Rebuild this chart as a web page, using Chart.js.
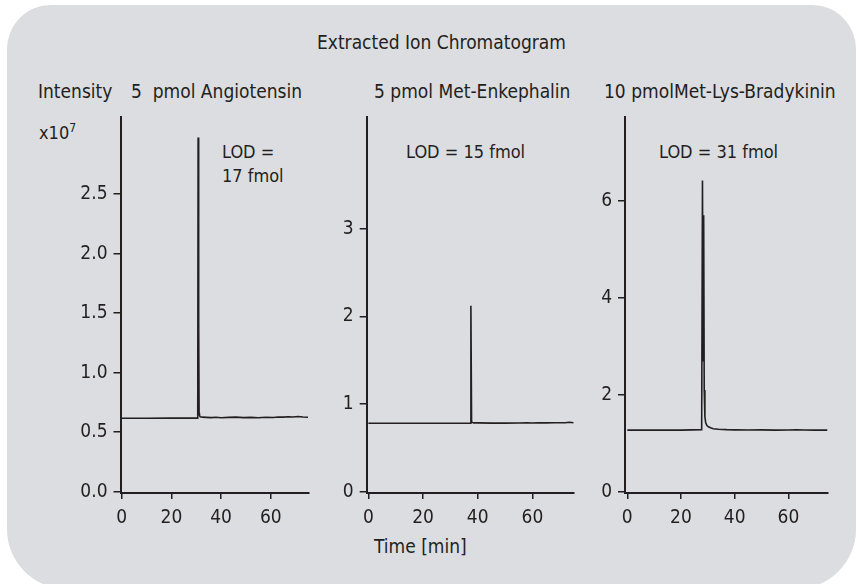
<!DOCTYPE html>
<html>
<head>
<meta charset="utf-8">
<script src="https://cdn.jsdelivr.net/npm/chart.js@4.4.1/dist/chart.umd.min.js"></script>
<style>
  body { margin: 0; background: #fff; width: 857px; height: 584px; overflow: hidden;
         font-family: 'Liberation Sans Narrow', 'DejaVu Sans Condensed', sans-serif; color: #231f20; }
  #panel { position: absolute; left: 7px; top: 5px; width: 849px; height: 584px;
           border-radius: 44px 44px 60px 60px; background: #dcdde0; }
  .t { position: absolute; font-size: 19px; line-height: 1; white-space: nowrap; }
  .lod { font-size: 18px; }
  canvas { position: absolute; }
</style>
</head>
<body>
<div id="panel"></div>

<div class="t" style="left:317px;top:33px">Extracted Ion Chromatogram</div>
<div class="t" style="left:38px;top:82px">Intensity</div>
<div class="t" style="left:131px;top:82px">5&nbsp; pmol Angiotensin</div>
<div class="t" style="left:374px;top:82px">5 pmol Met-Enkephalin</div>
<div class="t" style="left:604px;top:82px">10 pmolMet-Lys-Bradykinin</div>
<div class="t lod" style="left:39px;top:122px">x10<sup style="font-size:12px;vertical-align:7px">7</sup></div>
<div class="t lod" style="left:222px;top:140px;line-height:24px">LOD =<br>17 fmol</div>
<div class="t lod" style="left:406px;top:143px">LOD = 15 fmol</div>
<div class="t lod" style="left:659px;top:143px">LOD = 31 fmol</div>
<div class="t" style="left:374px;top:537px">Time [min]</div>

<canvas id="angio"></canvas>
<canvas id="enk"></canvas>
<canvas id="brady"></canvas>

<script>
// retention time axis (min)
const timeTicks = [0, 20, 40, 60];

// 5 pmol Angiotensin, intensity x10^7
const angioTicks = [0, 0.5, 1.0, 1.5, 2.0, 2.5];
const angioTickLabels = ['0.0', '0.5', '1.0', '1.5', '2.0', '2.5'];
const angioTime = [0, 10, 20, 30.4, 30.6, 30.75, 30.9, 31.05, 31.15, 31.3, 31.6, 32.5, 34, 36, 38, 40, 43,
                   46, 49, 52, 55, 58, 61, 63, 65, 67, 69, 71, 73, 75];
const angioIntensity = [0.617, 0.617, 0.618, 0.618, 0.62, 2.975, 0.7, 1.43, 0.66, 0.64, 0.63, 0.626, 0.624,
                        0.622, 0.625, 0.621, 0.624, 0.626, 0.622, 0.624, 0.621, 0.625, 0.623, 0.628, 0.626,
                        0.63, 0.627, 0.632, 0.628, 0.625];

// 5 pmol Met-Enkephalin
const enkTicks = [0, 1, 2, 3];
const enkTickLabels = ['0', '1', '2', '3'];
const enkTime = [0, 10, 20, 30, 37.3, 37.5, 37.75, 38, 38.5, 40, 45, 50, 55, 58, 60, 62, 65, 68, 70, 72, 73.5, 75];
const enkIntensity = [0.78, 0.78, 0.78, 0.78, 0.78, 2.12, 0.8, 0.79, 0.785, 0.785, 0.782, 0.782, 0.783,
                      0.786, 0.784, 0.786, 0.785, 0.787, 0.786, 0.787, 0.792, 0.786];

// 10 pmol Met-Lys-Bradykinin
const bradyTicks = [0, 2, 4, 6];
const bradyTickLabels = ['0', '2', '4', '6'];
const bradyTime = [0, 10, 20, 27.7, 28.0, 28.25, 28.45, 28.65, 28.9, 29.2, 29.6, 30.2, 31, 32, 34, 37, 40,
                   45, 50, 55, 60, 63, 66, 70, 75];
const bradyIntensity = [1.27, 1.27, 1.27, 1.28, 6.42, 2.7, 5.70, 2.1, 1.55, 1.42, 1.37, 1.34, 1.32, 1.30,
                        1.29, 1.28, 1.275, 1.272, 1.275, 1.27, 1.272, 1.276, 1.273, 1.27, 1.27];

const ink = '#231f20';
const font = { family: "'Liberation Sans Narrow', 'DejaVu Sans Condensed', sans-serif", size: 19 };

// canvas box and wanted plot area, both in page pixels
function makePanel(id, box, area, time, values, yTicks, yLabels, xRange, yRange) {
  const el = document.getElementById(id);
  el.style.left = box.x + 'px';
  el.style.top = box.y + 'px';
  el.width = box.w;
  el.height = box.h;
  const yAxisW = 50, xAxisH = 40;

  new Chart(el, {
    type: 'line',
    data: {
      datasets: [{
        data: time.map((t, i) => ({ x: t, y: values[i] })),
        borderColor: ink,
        borderWidth: 1.6,
        pointRadius: 0,
        tension: 0,
        fill: false
      }]
    },
    options: {
      responsive: false,
      animation: false,
      events: [],
      layout: {
        padding: {
          left: area.l - box.x - yAxisW,
          right: box.x + box.w - area.r,
          top: area.t - box.y,
          bottom: box.y + box.h - area.b - xAxisH
        }
      },
      plugins: { legend: { display: false }, tooltip: { enabled: false } },
      scales: {
        x: {
          type: 'linear',
          min: xRange[0],
          max: xRange[1],
          afterFit: s => { s.height = xAxisH; },
          afterBuildTicks: s => { s.ticks = timeTicks.map(v => ({ value: v })); },
          border: { display: true, color: ink, width: 2 },
          grid: { drawOnChartArea: false, drawTicks: true, tickLength: 6, color: ink, lineWidth: 1.5 },
          ticks: { color: ink, font: font, padding: 8, maxRotation: 0 }
        },
        y: {
          type: 'linear',
          min: yRange[0],
          max: yRange[1],
          afterFit: s => { s.width = yAxisW; },
          afterBuildTicks: s => { s.ticks = yTicks.map(v => ({ value: v })); },
          border: { display: true, color: ink, width: 2 },
          grid: { drawOnChartArea: false, drawTicks: true, tickLength: 7, color: ink, lineWidth: 1.5 },
          ticks: {
            color: ink, font: font, padding: 6,
            callback: (v, i) => yLabels[i]
          }
        }
      }
    }
  });
}

makePanel('angio', { x: 40, y: 100, w: 285, h: 445 }, { l: 120.5, r: 309, t: 116, b: 493 },
          angioTime, angioIntensity, angioTicks, angioTickLabels, [-0.5, 75.4], [-0.011, 3.144]);
makePanel('enk', { x: 300, y: 100, w: 285, h: 445 }, { l: 366.7, r: 574, t: 115, b: 493 },
          enkTime, enkIntensity, enkTicks, enkTickLabels, [-0.6, 75.2], [-0.015, 4.27]);
makePanel('brady', { x: 565, y: 100, w: 280, h: 445 }, { l: 625, r: 827.3, t: 112, b: 493 },
          bradyTime, bradyIntensity, bradyTicks, bradyTickLabels, [-0.86, 74.5], [-0.026, 7.72]);
</script>
</body>
</html>
